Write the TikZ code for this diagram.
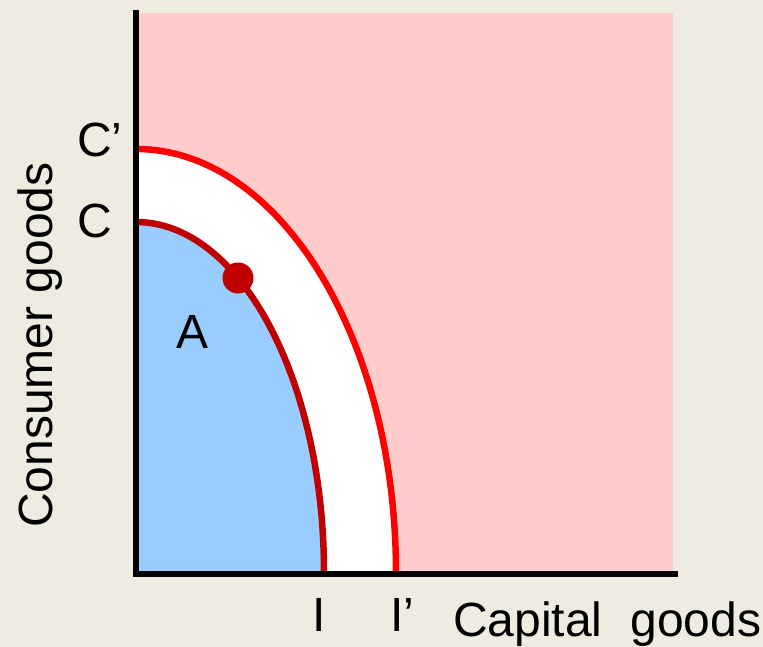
\documentclass[tikz,border=0pt]{standalone}
\usepackage{fontspec}
\setmainfont{Liberation Sans}
\definecolor{bgc}{RGB}{238,235,225}
\definecolor{pinkc}{RGB}{255,204,204}
\definecolor{bluec}{RGB}{153,204,255}
\definecolor{darkred}{RGB}{192,0,0}
\definecolor{brightred}{RGB}{255,0,0}
\begin{document}
\begin{tikzpicture}[x=1pt,y=1pt,
  lbl/.style={anchor=base west,inner sep=0pt,outer sep=0pt,font=\fontsize{48}{58}\selectfont},
  axisline/.style={line width=6pt,black},
  curveline/.style={line width=6.5pt}]
\fill[bgc] (0,0) rectangle (763,647);
\useasboundingbox (0,0) rectangle (763,647);
% pink region
\fill[pinkc] (136,74) rectangle (673,634);
% white band (outer PPF)
\fill[white] (136,74) -- (136,498) arc[start angle=90,end angle=0,x radius=260pt,y radius=424pt] -- cycle;
% blue region (inner PPF)
\fill[bluec] (136,74) -- (136,425) arc[start angle=90,end angle=0,x radius=188pt,y radius=351pt] -- cycle;
% curves
\draw[curveline,brightred] (136,498) arc[start angle=90,end angle=0,x radius=260pt,y radius=424pt];
\draw[curveline,darkred] (136,425) arc[start angle=90,end angle=0,x radius=188pt,y radius=351pt];
% axes
\coordinate (ytop) at (135.5,637);
\coordinate (ybot) at (135.5,70);
\coordinate (xl) at (133,72.5);
\coordinate (xr) at (677.5,72.5);
\draw[axisline] (ybot) -- (ytop);
\draw[axisline] (xl) -- (xr);
% point
\fill[darkred] (238,369) circle[radius=15.5pt];
% labels
\node[lbl] (cprime) at (77,490) {C’};
\node[lbl] (c) at (77,409) {C};
\node[lbl] (a) at (176,298) {A};
\node[lbl] (i) at (312.5,15) {I};
\node[lbl] (iprime) at (390.5,15) {I’};
\node[lbl] (capital) at (453,10) {Capital\hspace{28pt}goods};
\node[anchor=base,inner sep=0pt,outer sep=0pt,font=\fontsize{48}{58}\selectfont,rotate=90] (consumer) at (52,302) {Consumer goods};
\end{tikzpicture}
\end{document}
